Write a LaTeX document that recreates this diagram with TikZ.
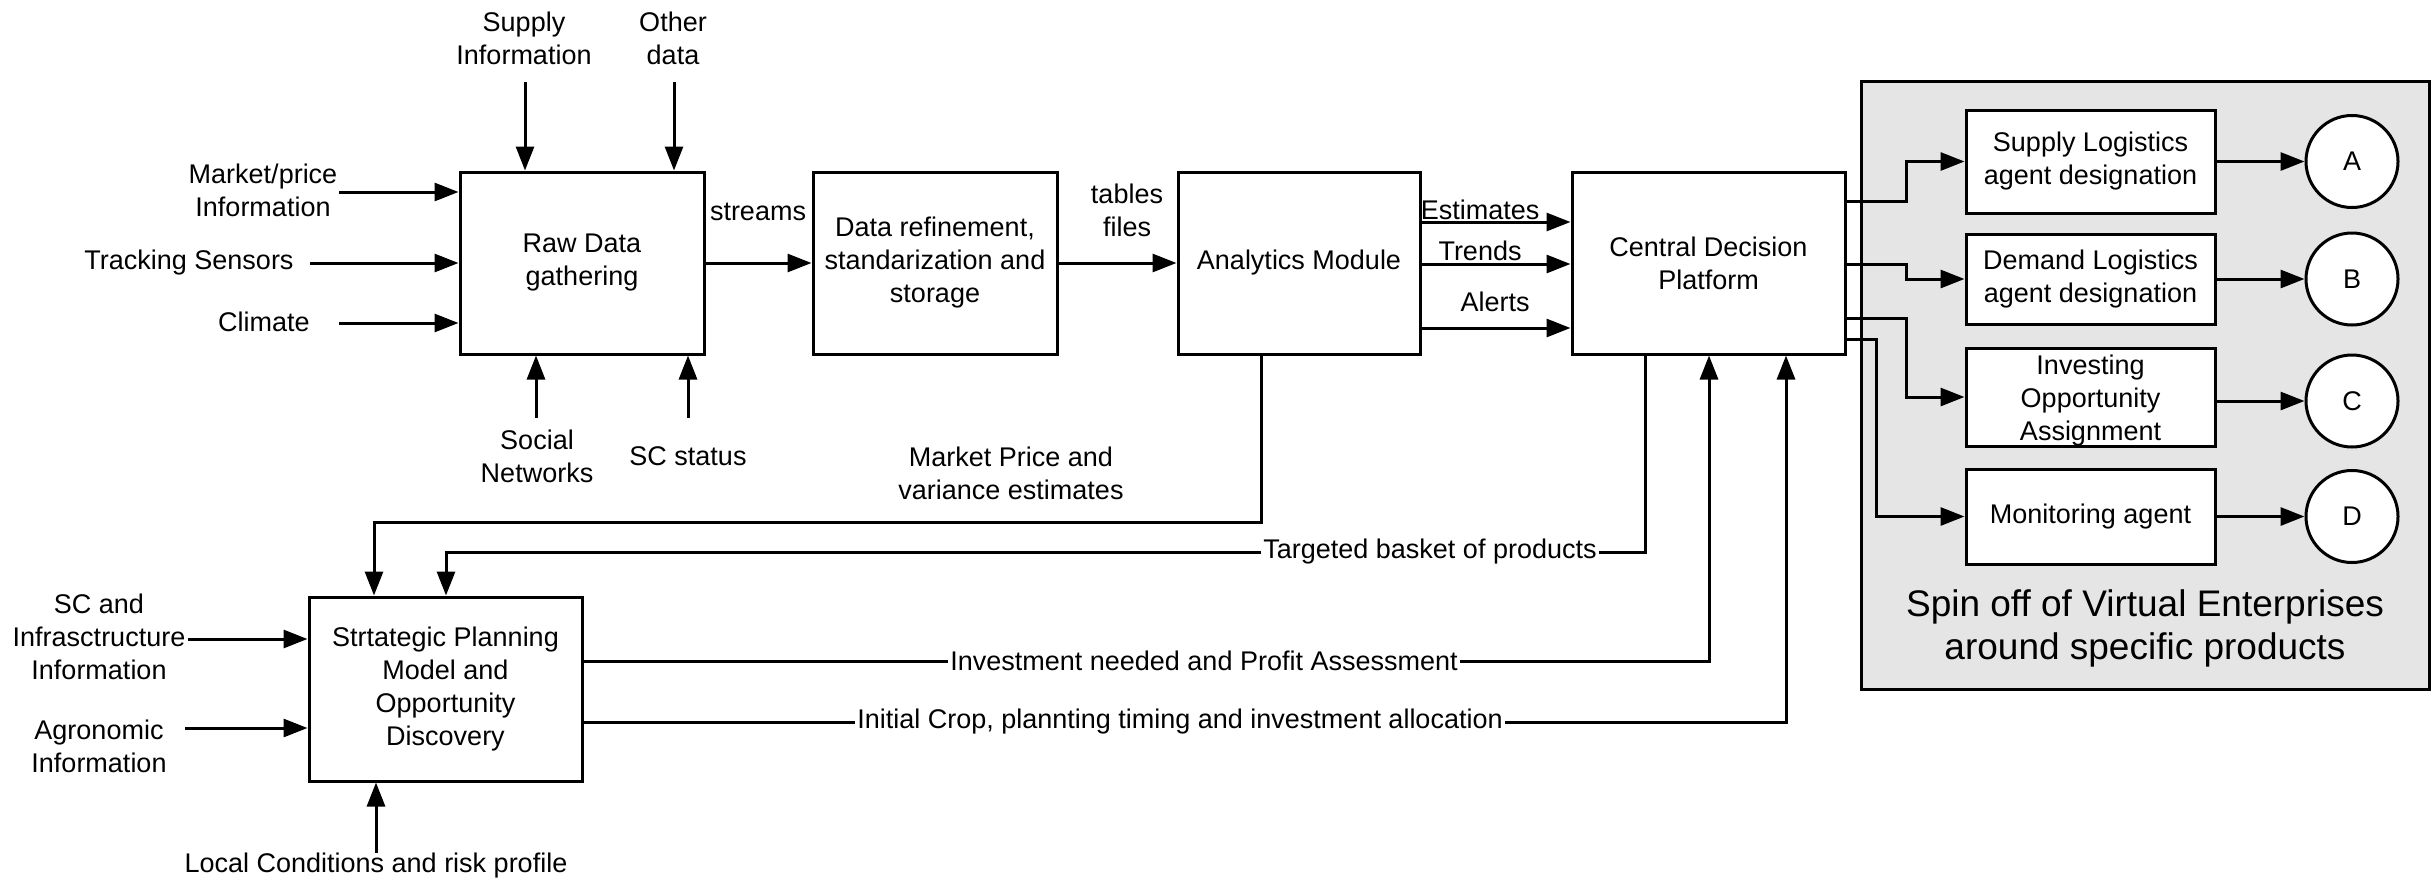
\documentclass[tikz,border=0pt]{standalone}
\usepackage{fontspec}
\setmainfont{Liberation Sans}
\usetikzlibrary{arrows.meta,calc}
\begin{document}
\begin{tikzpicture}[x=1pt,y=-1pt,line width=3pt,
  every node/.style={font=\fontsize{27}{33}\selectfont, inner sep=0pt, align=center},
  box/.style={draw, line width=3pt},
  arr/.style={-{Triangle[length=24pt,width=18pt]}, line width=3pt},
  onl/.style={fill=white, inner xsep=2pt, inner ysep=3pt}]
\useasboundingbox (0,0) rectangle (2433,881);
% background group
\node[box, fill=gray!20, minimum width=568, minimum height=608] (ve) at (2145,385) {};
\node[font=\fontsize{37}{43}\selectfont] (velabel) at (2145,628.5) {Spin off of Virtual Enterprises\\around specific products};
% main boxes
\node[box, minimum width=244, minimum height=182] (raw) at (582,263) {Raw Data\\gathering};
\node[box, minimum width=244, minimum height=182] (refine) at (935,263) {Data refinement,\\standarization and\\storage};
\node[box, minimum width=242, minimum height=182] (analytics) at (1299,263) {Analytics Module};
\node[box, minimum width=273, minimum height=182] (central) at (1708.5,263) {Central Decision\\Platform};
\node[box, minimum width=273, minimum height=184] (strategic) at (445.5,689) {Strtategic Planning\\Model and\\Opportunity\\Discovery};
% agent boxes
\node[box, fill=white, minimum width=249, minimum height=103] (supply) at (2090.5,161.5) {Supply Logistics\\agent designation};
\node[box, fill=white, minimum width=249, minimum height=90] (demand) at (2090.5,279) {Demand Logistics\\agent designation};
\node[box, fill=white, minimum width=249, minimum height=98] (invest) at (2090.5,397) {};
\node (investtext) at (2090.5,401) {Investing\\Opportunity\\Assignment};
\node[box, fill=white, minimum width=249, minimum height=95] (monitor) at (2090.5,516.5) {Monitoring agent};
% circles
\node[circle, box, fill=white, minimum size=92] (cA) at (2352,161.5) {A};
\node[circle, box, fill=white, minimum size=92] (cB) at (2352,279) {B};
\node[circle, box, fill=white, minimum size=92] (cC) at (2352,401) {C};
\node[circle, box, fill=white, minimum size=92] (cD) at (2352,516.5) {D};
% labels
\node (supplyinfo) at (524,38.5) {Supply\\Information};
\node (otherdata) at (673,38.5) {Other\\data};
\node (mktinfo) at (263,190.5) {Market/price\\Information};
\node (tracking) at (189,263) {Tracking Sensors};
\node (climate) at (264,322) {Climate};
\node (social) at (537,456.5) {Social\\Networks};
\node (scstatus) at (688,456) {SC status};
\node (streams) at (758,212) {streams};
\node (tables) at (1127,210.5) {tables\\files};
\node (estimates) at (1480,210) {Estimates};
\node (trends) at (1480,251) {Trends};
\node (alerts) at (1495,302) {Alerts};
\node (mpve) at (1011,473) {Market Price and\\variance estimates};
\node (scinfra) at (99,637) {SC and\\Infrasctructure\\Information};
\node (agro) at (99,746) {Agronomic\\Information};
\node (local) at (376,866) {Local Conditions and risk profile};
% inputs to raw data
\coordinate (s1) at (525,82);
\coordinate (s2) at (674,82);
\coordinate (s3) at (339,192);
\coordinate (s4) at (310,263);
\coordinate (s5) at (339,323);
\coordinate (s6) at (536,418);
\coordinate (s7) at (688,418);
\draw[arr] (s1) -- (s1 |- raw.north);
\draw[arr] (s2) -- (s2 |- raw.north);
\draw[arr] (s3) -- (s3 -| raw.west);
\draw[arr] (s4) -- (raw.west);
\draw[arr] (s5) -- (s5 -| raw.west);
\draw[arr] (s6) -- (s6 |- raw.south);
\draw[arr] (s7) -- (s7 |- raw.south);
% main chain
\draw[arr] (raw.east) -- (refine.west);
\draw[arr] (refine.east) -- (analytics.west);
\draw[arr] (analytics.east |- 0,222) -- (central.west |- 0,222);
\draw[arr] (analytics.east |- 0,264) -- (central.west |- 0,264);
\draw[arr] (analytics.east |- 0,328) -- (central.west |- 0,328);
% feedback lines
\coordinate (mp) at (374,522);
\draw[arr] (analytics.south -| 1261,0) |- (mp) -- (mp |- strategic.north);
\coordinate (tb) at (446,552);
\draw[arr] (central.south -| 1645,0) |- (tb) -- (tb |- strategic.north);
\node[onl] (tblabel) at (1430,552) {Targeted basket of products};
\coordinate (iv) at (1709,661);
\draw[arr] (strategic.east |- iv) -- (iv) -- (iv |- central.south);
\node[onl] (ivlabel) at (1204,661) {Investment needed and Profit Assessment};
\coordinate (ic) at (1786,722);
\draw[arr] (strategic.east |- ic) -- (ic) -- (ic |- central.south);
\node[onl] (iclabel) at (1180,722) {Initial Crop, plannting timing and investment allocation};
% inputs to strategic
\coordinate (s8) at (188,639);
\coordinate (s9) at (185,728);
\coordinate (s10) at (376,853);
\draw[arr] (s8) -- (s8 -| strategic.west);
\draw[arr] (s9) -- (s9 -| strategic.west);
\draw[arr] (s10) -- (s10 |- strategic.south);
% outputs of central
\coordinate (o1) at (1906,201);
\coordinate (o2) at (1906,264);
\coordinate (o3) at (1906,318);
\coordinate (o4) at (1876,339);
\draw[arr] (central.east |- o1) -- (o1) |- (supply.west);
\draw[arr] (central.east |- o2) -- (o2) |- (demand.west);
\draw[arr] (central.east |- o3) -- (o3) |- (invest.west);
\draw[arr] (central.east |- o4) -- (o4) |- (monitor.west);
% agents to circles
\draw[arr] (supply.east) -- (cA.west);
\draw[arr] (demand.east) -- (cB.west);
\draw[arr] (invest.east |- cC) -- (cC.west);
\draw[arr] (monitor.east) -- (cD.west);
\end{tikzpicture}
\end{document}
